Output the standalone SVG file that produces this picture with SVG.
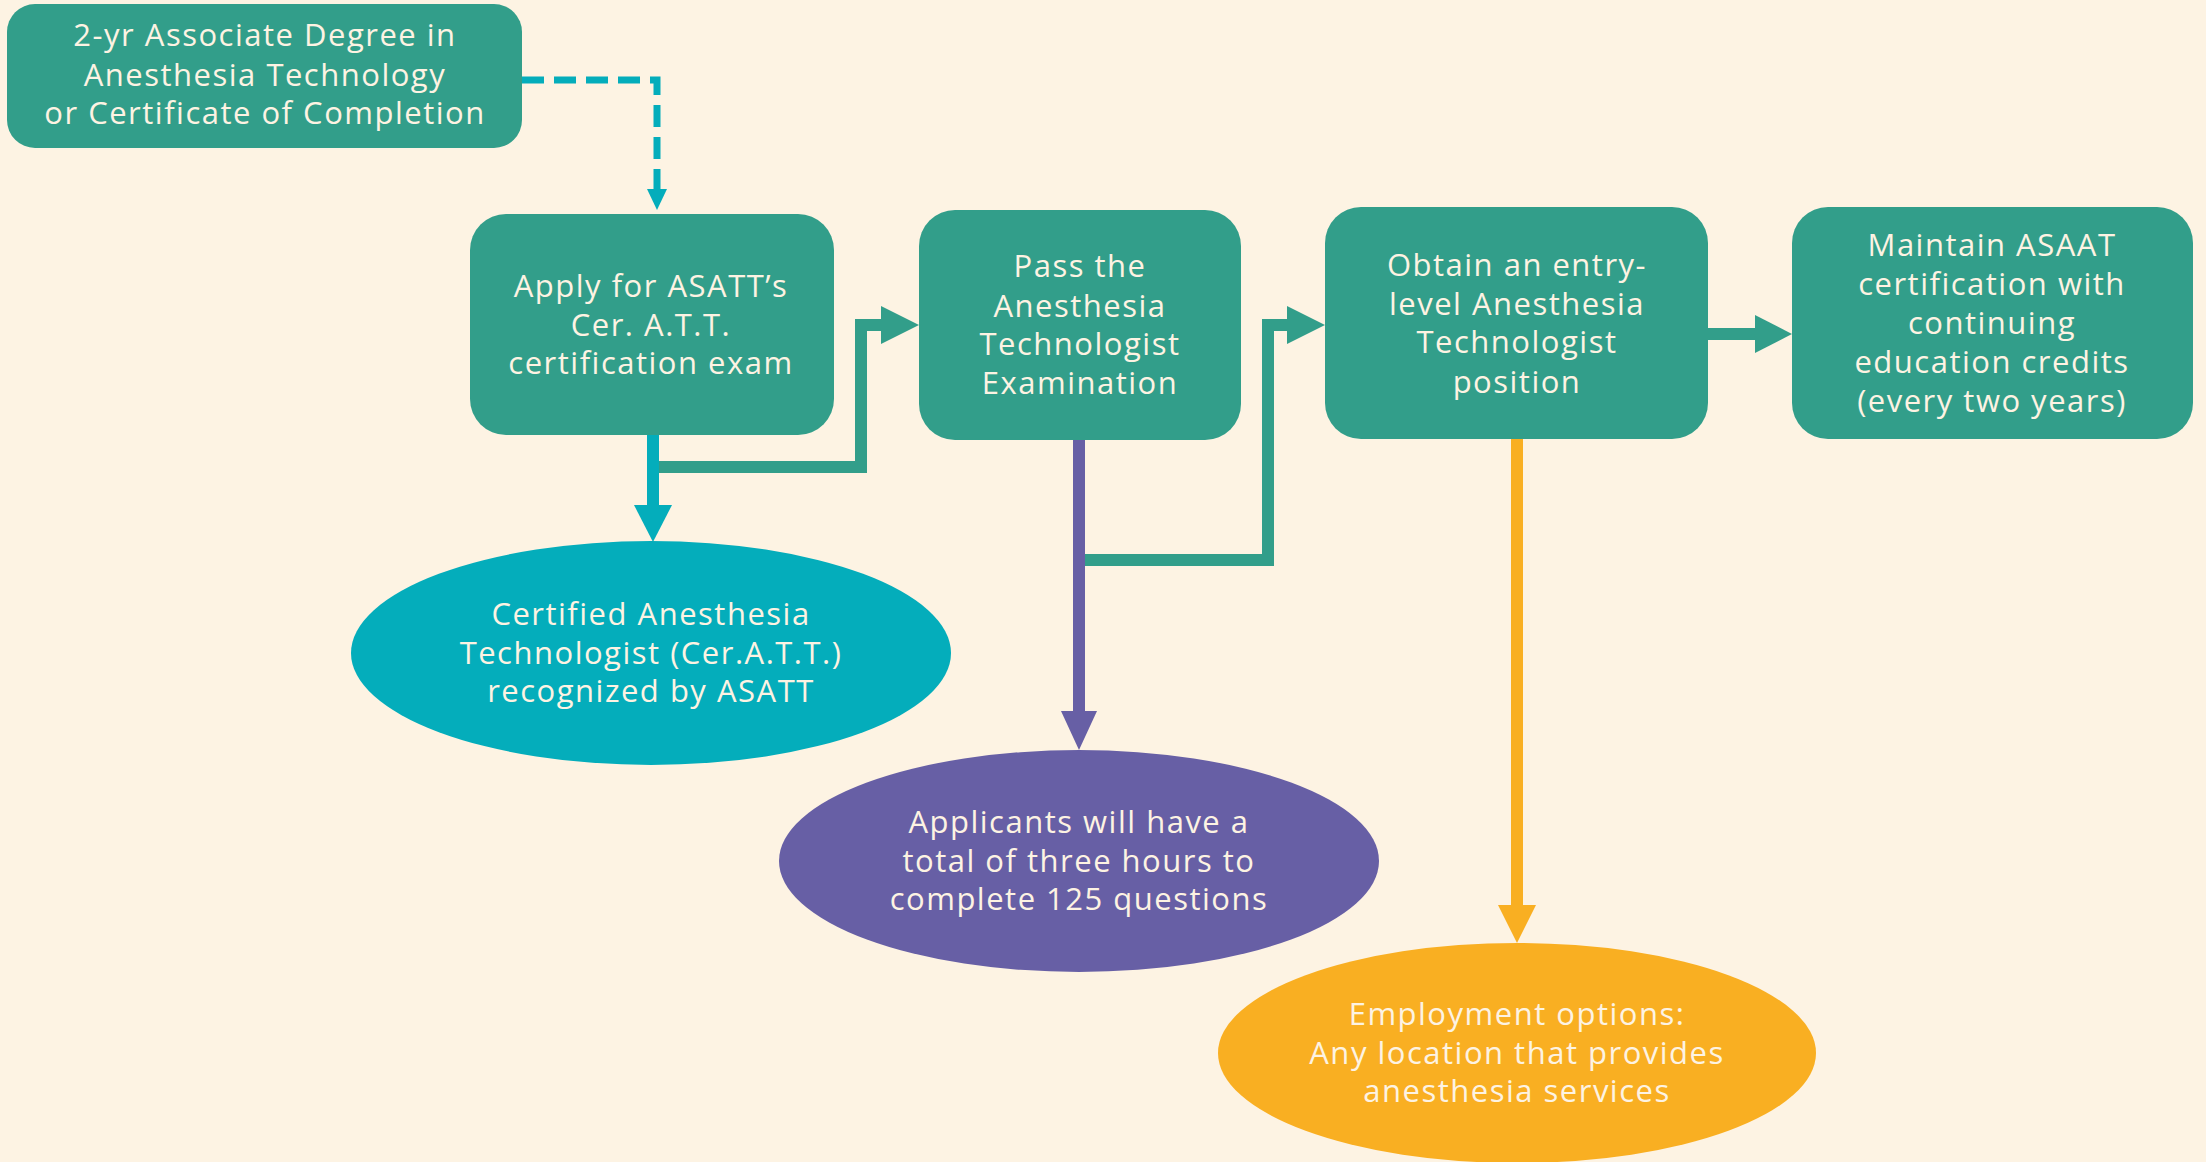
<svg xmlns="http://www.w3.org/2000/svg" width="2206" height="1162" viewBox="0 0 2206 1162">
<style>
.box{fill:#329E8A}
.t{font-family:"Open Sans","Liberation Sans",sans-serif;font-size:31px;letter-spacing:1.5px;fill:#FDF3E3;text-anchor:middle}
.teal{stroke:#329E8A;stroke-width:12;fill:none}
</style>
<rect width="2206" height="1162" fill="#FDF3E3"/>
<g id="connectors">
  <path d="M522,80 H657 V190" stroke="#04ADBB" stroke-width="7" fill="none" stroke-dasharray="22,10"/>
  <polygon points="647,189 667,189 657,210" fill="#04ADBB"/>
  <path d="M653,435 V506" stroke="#04ADBB" stroke-width="12" fill="none"/>
  <polygon points="634,505 672,505 653,542" fill="#04ADBB"/>
  <path d="M659,467 H861 V325 H882" class="teal"/>
  <polygon points="881,306 881,344 919,325" fill="#329E8A"/>
  <path d="M1085,560 H1268 V325 H1288" class="teal"/>
  <polygon points="1287,306 1287,344 1325,325" fill="#329E8A"/>
  <path d="M1708,334 H1756" class="teal"/>
  <polygon points="1755,315 1755,353 1792,334" fill="#329E8A"/>
  <path d="M1079,440 V713" stroke="#675FA5" stroke-width="12" fill="none"/>
  <polygon points="1061,711 1097,711 1079,750" fill="#675FA5"/>
  <path d="M1517,439 V906" stroke="#F9AF22" stroke-width="12" fill="none"/>
  <polygon points="1498,905 1536,905 1517,943" fill="#F9AF22"/>
</g>
<g id="n1">
  <rect class="box" x="7" y="4" width="515" height="144" rx="28"/>
  <text class="t" x="265" y="46">2-yr Associate Degree in</text>
  <text class="t" x="265" y="86">Anesthesia Technology</text>
  <text class="t" x="265" y="124">or Certificate of Completion</text>
</g>
<g id="n2">
  <rect class="box" x="470" y="214" width="364" height="221" rx="36"/>
  <text class="t" x="651" y="297">Apply for ASATT’s</text>
  <text class="t" x="651" y="336">Cer. A.T.T.</text>
  <text class="t" x="651" y="374">certification exam</text>
</g>
<g id="n3">
  <rect class="box" x="919" y="210" width="322" height="230" rx="36"/>
  <text class="t" x="1080" y="277">Pass the</text>
  <text class="t" x="1080" y="317">Anesthesia</text>
  <text class="t" x="1080" y="355">Technologist</text>
  <text class="t" x="1080" y="394">Examination</text>
</g>
<g id="n4">
  <rect class="box" x="1325" y="207" width="383" height="232" rx="36"/>
  <text class="t" x="1517" y="276">Obtain an entry-</text>
  <text class="t" x="1517" y="315">level Anesthesia</text>
  <text class="t" x="1517" y="353">Technologist</text>
  <text class="t" x="1517" y="393">position</text>
</g>
<g id="n5">
  <rect class="box" x="1792" y="207" width="401" height="232" rx="36"/>
  <text class="t" x="1992" y="256">Maintain ASAAT</text>
  <text class="t" x="1992" y="295">certification with</text>
  <text class="t" x="1992" y="334">continuing</text>
  <text class="t" x="1992" y="373">education credits</text>
  <text class="t" x="1992" y="412">(every two years)</text>
</g>
<g id="n6">
  <ellipse cx="651" cy="653" rx="300" ry="112" fill="#04ADBB"/>
  <text class="t" x="651" y="625">Certified Anesthesia</text>
  <text class="t" x="651" y="664">Technologist (Cer.A.T.T.)</text>
  <text class="t" x="651" y="702">recognized by ASATT</text>
</g>
<g id="n7">
  <ellipse cx="1079" cy="861" rx="300" ry="111" fill="#675FA5"/>
  <text class="t" x="1079" y="833">Applicants will have a</text>
  <text class="t" x="1079" y="872">total of three hours to</text>
  <text class="t" x="1079" y="910">complete 125 questions</text>
</g>
<g id="n8">
  <ellipse cx="1517" cy="1053" rx="299" ry="110" fill="#F9AF22"/>
  <text class="t" x="1517" y="1025">Employment options:</text>
  <text class="t" x="1517" y="1064">Any location that provides</text>
  <text class="t" x="1517" y="1102">anesthesia services</text>
</g>
</svg>
